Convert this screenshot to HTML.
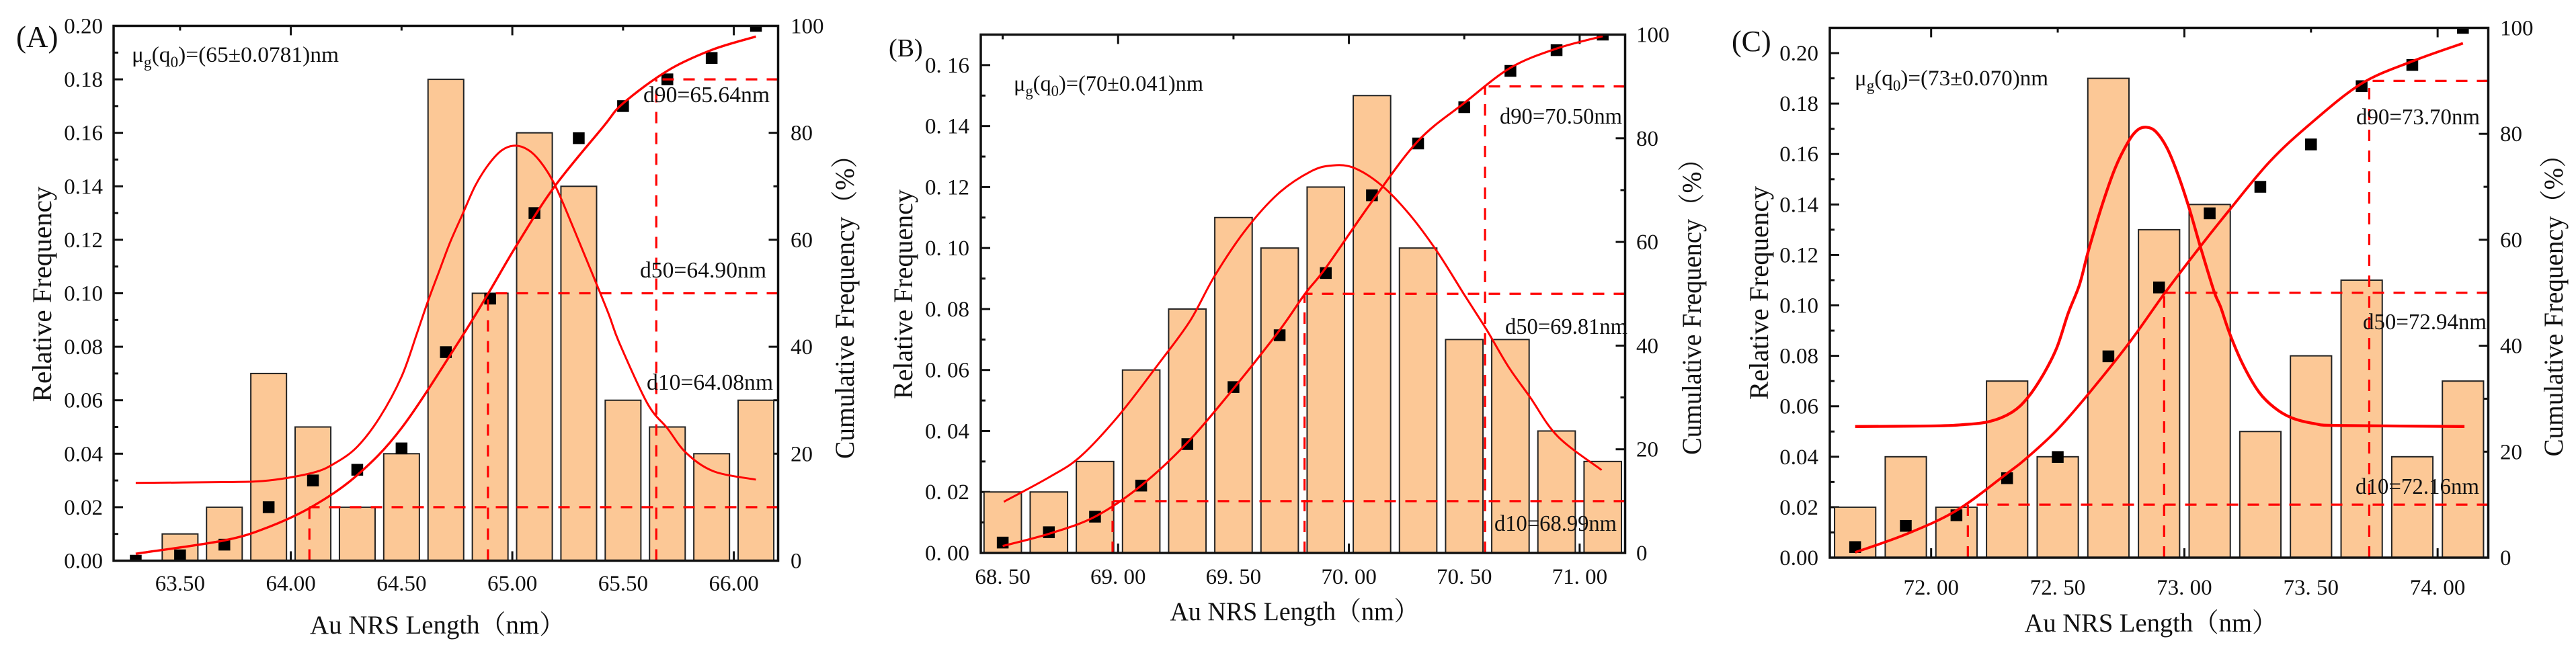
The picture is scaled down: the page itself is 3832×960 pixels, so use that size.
<!DOCTYPE html>
<html lang="en">
<head>
<meta charset="utf-8">
<title>Au NRS Length Distribution</title>
<style>
html,body{margin:0;padding:0;background:#fff;width:3832px;height:960px;overflow:hidden}
svg{display:block}
text{font-family:"Liberation Serif","Noto Serif CJK SC",serif;fill:#111}
</style>
</head>
<body>
<svg id="figure" xmlns="http://www.w3.org/2000/svg" width="3832" height="960" viewBox="0 0 3832 960"></svg>
<script>
// Panel A data
const aBinCentres = [63.5,63.7,63.9,64.1,64.3,64.5,64.7,64.9,65.1,65.3,65.5,65.7,65.9,66.1];
const aFrequency = [0.01,0.02,0.07,0.05,0.02,0.04,0.18,0.10,0.16,0.14,0.06,0.05,0.04,0.06];
const aScatterX = [63.3,63.5,63.7,63.9,64.1,64.3,64.5,64.7,64.9,65.1,65.3,65.5,65.7,65.9,66.1];
const aScatterCum = [0,1,3,10,15,17,21,39,49,65,79,85,90,94,100];
const aCumCurveX = [63.3,63.7,63.9,64.1,64.3,64.5,64.756,64.892,65.014,65.186,65.408,65.5,65.7,65.9,66.1];
const aCumCurveY = [1.3,3.8,6.3,10.2,16,24.8,40.8,50,58.6,69.7,81,85.5,91.6,95.5,98];
const aDensityX = [63.3,63.7,63.9,64.1,64.2,64.3,64.4,64.5,64.569,64.619,64.67,64.72,64.776,64.832,64.892,64.953,65.014,65.074,65.125,65.181,65.226,65.277,65.327,65.383,65.438,65.483,65.61,65.7,65.785,65.91,66.1];
const aDensityY = [.0291,.0294,.03,.0329,.0365,.0426,.0534,.0688,.0849,.097,.1083,.1192,.1297,.1401,.1481,.1535,.1552,.1535,.1494,.1423,.1343,.1242,.1142,.1029,.0916,.0815,.0588,.0495,.0403,.0334,.0303];
const aPercentiles = [64.084,64.89,65.65];
const aXTickValues = [63.5,64,64.5,65,65.5,66];
const aXTickLabels = ["63.50","64.00","64.50","65.00","65.50","66.00"];
const aYTickLabels = ["0.00","0.02","0.04","0.06","0.08","0.10","0.12","0.14","0.16","0.18","0.20"];

// Panel B data
const bBinCentres = [68.5,68.7,68.9,69.1,69.3,69.5,69.7,69.9,70.1,70.3,70.5,70.7,70.9,71.1];
const bFrequency = [0.02,0.02,0.03,0.06,0.08,0.11,0.10,0.12,0.15,0.10,0.07,0.07,0.04,0.03];
const bScatterX = [68.5,68.7,68.9,69.1,69.3,69.5,69.7,69.9,70.1,70.3,70.5,70.7,70.9,71.1];
const bScatterCum = [2,4,7,13,21,32,42,54,69,79,86,93,97,100];
const bCumCurveX = [68.5,68.7,68.9,69.1,69.3,69.5,69.7,69.81,69.9,70.1,70.3,70.5,70.7,70.9,71.1];
const bCumCurveY = [1.35,3.7,7,13,21.3,31.7,43,50,55,67.8,79.5,86.8,93.6,97.3,99.7];
const bDensityX = [68.505,68.7,68.835,69.002,69.18,69.311,69.418,69.549,69.692,69.834,69.93,70.025,70.144,70.263,70.382,70.5,70.596,70.691,70.786,70.905,71.095];
const bDensityY = [.0168,.0248,.0315,.045,.0625,.076,.0908,.1056,.1177,.1251,.1271,.1262,.1204,.111,.0989,.0847,.0733,.0611,.051,.0382,.0272];
const bPercentiles = [68.976,69.808,70.59];
const bXTickValues = [68.5,69,69.5,70,70.5,71];
const bXTickLabels = ["68. 50","69. 00","69. 50","70. 00","70. 50","71. 00"];
const bYTickLabels = ["0. 00","0. 02","0. 04","0. 06","0. 08","0. 10","0. 12","0. 14","0. 16"];

// Panel C data
const cBinCentres = [71.7,71.9,72.1,72.3,72.5,72.7,72.9,73.1,73.3,73.5,73.7,73.9,74.1];
const cFrequency = [0.02,0.04,0.02,0.07,0.04,0.19,0.13,0.14,0.05,0.08,0.11,0.04,0.07];
const cScatterX = [71.7,71.9,72.1,72.3,72.5,72.7,72.9,73.1,73.3,73.5,73.7,73.9,74.1];
const cScatterCum = [2,6,8,15,19,38,51,65,70,78,89,93,100];
const cCumCurveX = [71.7,71.9,72.1,72.3,72.382,72.497,72.621,72.78,72.922,73.064,73.179,73.338,73.5,73.7,73.9,74.1];
const cCumCurveY = [1,4.4,8.9,15.9,19,24.1,30.9,40.4,49.9,58.8,65.7,74.8,82,89.5,93.7,97.1];
const cDensityX = [71.7,72,72.124,72.232,72.32,72.382,72.444,72.497,72.541,72.586,72.621,72.674,72.727,72.78,72.816,72.85,72.887,72.931,72.975,73.019,73.064,73.117,73.143,73.179,73.232,73.294,73.355,73.422,73.515,73.612,74.106];
const cDensityY = [.052,.0522,.0527,.054,.0577,.0635,.0728,.0834,.0968,.1083,.1216,.1394,.1545,.1651,.1696,.1706,.1689,.1625,.1518,.1385,.123,.1056,.0994,.0888,.0764,.0657,.0595,.0555,.0531,.0524,.052];
const cPercentiles = [72.145,72.92,73.73];
const cXTickValues = [72,72.5,73,73.5,74];
const cXTickLabels = ["72. 00","72. 50","73. 00","73. 50","74. 00"];
const cYTickLabels = ["0.00","0.02","0.04","0.06","0.08","0.10","0.12","0.14","0.16","0.18","0.20"];

// Right axis (shared)
const cumTickValues = [0,20,40,60,80,100];
const cumTickLabels = ["0","20","40","60","80","100"];
const cumMinorValues = [10,30,50,70,90];
const percentileLevels = [10,50,90];

const NS = "http://www.w3.org/2000/svg";
const root = document.getElementById("figure");

function node(parent, tag, attrs){
  const el = document.createElementNS(NS, tag);
  for (const k in attrs) el.setAttribute(k, attrs[k]);
  parent.appendChild(el);
  return el;
}
function smoothPath(px){
  let d = "M" + px[0][0].toFixed(1) + " " + px[0][1].toFixed(1);
  for (let i = 0; i < px.length - 1; i++){
    const p0 = px[Math.max(i-1,0)], p1 = px[i], p2 = px[i+1], p3 = px[Math.min(i+2,px.length-1)];
    const c1x = p1[0] + (p2[0]-p0[0])/6, c1y = p1[1] + (p2[1]-p0[1])/6;
    const c2x = p2[0] - (p3[0]-p1[0])/6, c2y = p2[1] - (p3[1]-p1[1])/6;
    d += "C" + c1x.toFixed(1) + " " + c1y.toFixed(1) + " " + c2x.toFixed(1) + " " + c2y.toFixed(1) + " " + p2[0].toFixed(1) + " " + p2[1].toFixed(1);
  }
  return d;
}

function drawPanel(p){
  const g = node(root, "g", {});
  
  
  const xs = v => p.left + (v - p.xMin) / (p.xMax - p.xMin) * (p.right - p.left);
  const ysL = v => p.bottom - v / p.yMax * (p.bottom - p.top);
  const ysR = v => p.bottom - v / 100 * (p.bottom - p.top);
  const clipId = "clip-" + p.id;
  const defs = node(g, "defs", {});
  const clip = node(defs, "clipPath", {id: clipId});
  node(clip, "rect", {x:p.left, y:p.top, width:p.right-p.left, height:p.bottom-p.top});

  // minor/major ticks
  const ticks = node(g, "g", {stroke:"#111", "stroke-width":3, fill:"none"});
  
  
  p.xTicks.forEach((v,i) => {
    const len = p.longTick(v) ? 14 : 7;
    node(ticks, "line", {x1:xs(v), x2:xs(v), y1:p.bottom, y2:p.bottom-len});
    node(ticks, "line", {x1:xs(v), x2:xs(v), y1:p.top, y2:p.top+len});
  });
  p.yLabels.forEach((s,i) => {
    const v = i * 0.02;
    node(ticks, "line", {x1:p.left, x2:p.left+14, y1:ysL(v), y2:ysL(v)});
    if (v + 0.01 <= p.yMax) node(ticks, "line", {x1:p.left, x2:p.left+7, y1:ysL(v+0.01), y2:ysL(v+0.01)});
  });
  cumTickValues.forEach(v => {
    node(ticks, "line", {x1:p.right, x2:p.right-14, y1:ysR(v), y2:ysR(v)});
  });
  cumMinorValues.forEach(v => {
    node(ticks, "line", {x1:p.right, x2:p.right-7, y1:ysR(v), y2:ysR(v)});
  });

  // bars
  const bars = node(g, "g", {"clip-path":"url(#"+clipId+")"});
  
  
  p.bins.forEach((c,i) => {
    const x0 = xs(c - p.barW/2), x1 = xs(c + p.barW/2), y = ysL(p.freq[i]);
    const r = node(bars, "rect", {x:x0, y:y, width:x1-x0, height:p.bottom-y, fill:"#FCC896", stroke:"#222", "stroke-width":2});
    
    
  });

  // scatter markers
  const marks = node(g, "g", {"clip-path":"url(#"+clipId+")"});
  
  
  p.scatterX.forEach((v,i) => {
    const r = node(marks, "rect", {x:xs(v)-8.75, y:ysR(p.scatterY[i])-8.75, width:17.5, height:17.5, fill:"#000"});
    
    
  });

  // percentile guide lines
  const dash = node(g, "g", {stroke:"#f00", "stroke-width":3.2, "stroke-dasharray":"17 14", fill:"none"});
  
  
  p.percentiles.forEach((v,i) => {
    const lv = percentileLevels[i];
    const line1 = node(dash, "line", {x1:xs(v), x2:xs(v), y1:p.bottom, y2:ysR(lv)});
    
    
    const line2 = node(dash, "line", {x1:p.right, x2:xs(v), y1:ysR(lv), y2:ysR(lv)});
    
    
  });

  // curves
  const dens = node(g, "path", {d:smoothPath(p.densX.map((v,i)=>[xs(v),ysL(p.densY[i])])), fill:"none", stroke:"#f00", "stroke-width":p.densW, "stroke-linejoin":"round"});
  
  
  const cum = node(g, "path", {d:smoothPath(p.cumX.map((v,i)=>[xs(v),ysR(p.cumY[i])])), fill:"none", stroke:"#f00", "stroke-width":p.cumW, "stroke-linejoin":"round"});
  
  

  // frame
  const frame = node(g, "rect", {x:p.left, y:p.top, width:p.right-p.left, height:p.bottom-p.top, fill:"none", stroke:"#111", "stroke-width":3.5});
  
  

  // tick labels
  const FS = 33;
  p.xTicks.forEach((v,i) => {
    const t = node(g, "text", {x:xs(v), y:p.xBase, "text-anchor":"middle", "font-size":FS});
    t.textContent = p.xLabels[i];
    
    
  });
  p.yLabels.forEach((s,i) => {
    const t = node(g, "text", {x:p.yLabelEnd, y:ysL(i*0.02)+11, "text-anchor":"end", "font-size":FS});
    t.textContent = s;
    
    
  });
  cumTickValues.forEach((v,i) => {
    const t = node(g, "text", {x:p.rLabelStart, y:ysR(v)+11, "font-size":FS});
    t.textContent = cumTickLabels[i];
    
    
  });

  // axis titles
  const xt = node(g, "text", {x:p.xTitle[0], y:p.xTitle[1], "text-anchor":"middle", "font-size":39, textLength:p.xTitle[2], lengthAdjust:"spacingAndGlyphs"});
  xt.textContent = "Au NRS Length（nm）";
  
  
  const yt = node(g, "text", {transform:"translate("+p.yTitle[0]+" "+p.yTitle[1]+") rotate(-90)", "text-anchor":"middle", "font-size":40, textLength:p.yTitle[2], lengthAdjust:"spacingAndGlyphs"});
  yt.textContent = "Relative Frequency";
  
  
  const rt = node(g, "text", {transform:"translate("+p.rTitle[0]+" "+p.rTitle[1]+") rotate(-90)", "text-anchor":"middle", "font-size":40, textLength:p.rTitle[2], lengthAdjust:"spacingAndGlyphs"});
  rt.textContent = "Cumulative Frequency（%）";
  
  

  // panel letter
  const letter = node(g, "text", {x:p.letter[0], y:p.letter[1], "font-size":p.letter[2]});
  letter.textContent = "(" + p.id.toUpperCase() + ")";
  
  

  // mean annotation
  const mu = node(g, "text", {x:p.mu[0], y:p.mu[1], "font-size":33, textLength:p.mu[3], lengthAdjust:"spacingAndGlyphs"});
  
  
  const parts = [["μ",0,33],["g",8,23],["(q",-8,33],["0",8,23],[")=("+p.mu[2]+")nm",-8,33]];
  parts.forEach(part => {
    const ts = node(mu, "tspan", {dy:part[1], "font-size":part[2]});
    ts.textContent = part[0];
  });

  // percentile annotations
  p.notes.forEach(n => {
    const t = node(g, "text", {x:n[1], y:n[2], "font-size":34, textLength:p.noteW, lengthAdjust:"spacingAndGlyphs"});
    t.textContent = n[0];
    
    
  });
}

drawPanel({
  id:"a", left:169, right:1157.5, top:38.5, bottom:834.5, xMin:63.2, xMax:66.2, yMax:0.20, barW:0.161,
  bins:aBinCentres, freq:aFrequency, scatterX:aScatterX, scatterY:aScatterCum,
  cumX:aCumCurveX, cumY:aCumCurveY, densX:aDensityX, densY:aDensityY, percentiles:aPercentiles,
  xTicks:aXTickValues, xLabels:aXTickLabels, yLabels:aYTickLabels,
  longTick:v => Number.isInteger(v), densW:3, cumW:3.4, xBase:879, yLabelEnd:153, rLabelStart:1176,
  xTitle:[651,943,380], yTitle:[76,438,321], rTitle:[1270,447,472], letter:[24,70,45],
  mu:[196,92,"65±0.0781",308], noteW:188,
  notes:[["d90=65.64nm",957,152],["d50=64.90nm",952,413],["d10=64.08nm",962,580]]
});
drawPanel({
  id:"b", left:1459, right:2417.5, top:51.5, bottom:823, xMin:68.405, xMax:71.197, yMax:0.17, barW:0.162,
  bins:bBinCentres, freq:bFrequency, scatterX:bScatterX, scatterY:bScatterCum,
  cumX:bCumCurveX, cumY:bCumCurveY, densX:bDensityX, densY:bDensityY, percentiles:bPercentiles,
  xTicks:bXTickValues, xLabels:bXTickLabels, yLabels:bYTickLabels,
  longTick:v => Number.isInteger(v), densW:3, cumW:3.2, xBase:869, yLabelEnd:1442, rLabelStart:2434,
  xTitle:[1926,923,371], yTitle:[1357,438,312], rTitle:[2530,447,460], letter:[1322,84,38],
  mu:[1508,135,"70±0.041",282], noteW:182,
  notes:[["d90=70.50nm",2231,184],["d50=69.81nm",2239,497],["d10=68.99nm",2223,790]]
});
drawPanel({
  id:"c", left:2722, right:3701.5, top:41.5, bottom:830, xMin:71.6, xMax:74.2, yMax:0.21, barW:0.1625,
  bins:cBinCentres, freq:cFrequency, scatterX:cScatterX, scatterY:cScatterCum,
  cumX:cCumCurveX, cumY:cCumCurveY, densX:cDensityX, densY:cDensityY, percentiles:cPercentiles,
  xTicks:cXTickValues, xLabels:cXTickLabels, yLabels:cYTickLabels,
  longTick:v => Number.isInteger(v), densW:4.3, cumW:3.8, xBase:885, yLabelEnd:2705, rLabelStart:3719,
  xTitle:[3200,940,377], yTitle:[2630,436,318], rTitle:[3812,445,469], letter:[2576,76,44],
  mu:[2759,127,"73±0.070",288], noteW:184,
  notes:[["d90=73.70nm",3505,185],["d50=72.94nm",3515,490],["d10=72.16nm",3504,735]]
});
</script>
</body>
</html>
